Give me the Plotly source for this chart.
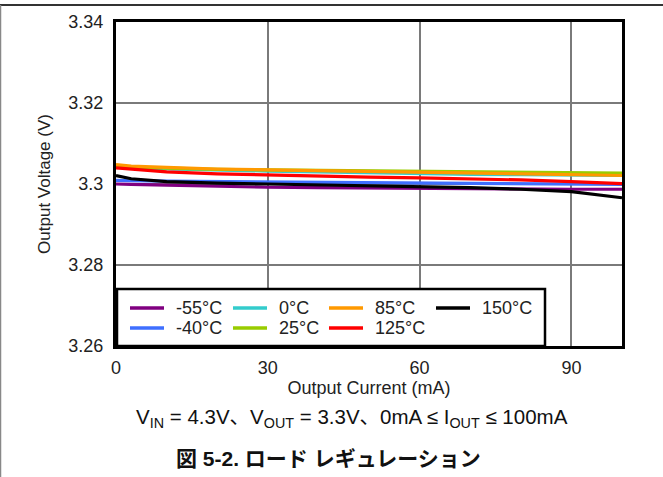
import plotly.graph_objects as go

# Load current (mA)
current_ma = [0, 1, 3, 10, 20, 30, 40, 50, 60, 70, 80, 90, 100]

# Output voltage (V) per ambient temperature
v_m55 = [3.3000, 3.3000, 3.2999, 3.2997, 3.2994, 3.2992, 3.2991, 3.2990, 3.2989, 3.2988, 3.2988, 3.2987, 3.2987]
v_m40 = [3.3009, 3.3009, 3.3008, 3.3007, 3.3006, 3.3005, 3.3004, 3.3003, 3.3002, 3.3001, 3.3000, 3.2999, 3.2999]
v_0 = [3.3044, 3.3043, 3.3040, 3.3037, 3.3034, 3.3032, 3.3030, 3.3028, 3.3025, 3.3024, 3.3023, 3.3022, 3.3021]
v_25 = [3.3045, 3.3044, 3.3042, 3.3039, 3.3036, 3.3035, 3.3034, 3.3033, 3.3032, 3.3031, 3.3030, 3.3028, 3.3027]
v_85 = [3.3048, 3.3047, 3.3044, 3.3041, 3.3037, 3.3035, 3.3033, 3.3031, 3.3030, 3.3028, 3.3025, 3.3023, 3.3021]
v_125 = [3.3040, 3.3039, 3.3036, 3.3030, 3.3025, 3.3022, 3.3019, 3.3017, 3.3015, 3.3013, 3.3010, 3.3006, 3.3001]
v_150 = [3.3021, 3.3018, 3.3013, 3.3006, 3.3002, 3.3000, 3.2998, 3.2996, 3.2994, 3.2991, 3.2987, 3.2981, 3.2966]

labels = ["-55°C", "-40°C", "0°C", "25°C", "85°C", "125°C", "150°C"]
series = [v_m55, v_m40, v_0, v_25, v_85, v_125, v_150]
colors = ["#800080", "#3F6FFF", "#33CCCC", "#99CC00", "#FF9900", "#FF0000", "#000000"]

x_ticks = [0, 30, 60, 90]
y_ticks = [3.26, 3.28, 3.30, 3.32, 3.34]
y_tick_text = ["3.26", "3.28", "3.3", "3.32", "3.34"]

FONT = "Arial, Liberation Sans, Noto Sans CJK JP, sans-serif"
TXT = "#222"

# plot-area geometry in pixels, used to place the key box in paper units
W, H = 663, 477
ML, MR, MT, MB = 116, 41, 22, 131
PW, PH = W - ML - MR, H - MT - MB


def px(xpix):
    return (xpix - ML) / PW


def py(ypix):
    return (H - MB - ypix) / PH


fig = go.Figure()
for name, ys, col in zip(labels, series, colors):
    fig.add_trace(go.Scatter(
        x=current_ma, y=ys, name=name, mode="lines",
        line=dict(color=col, width=3.2), showlegend=False,
    ))

fig.update_layout(
    width=W, height=H,
    margin=dict(l=ML, r=MR, t=MT, b=MB),
    paper_bgcolor="white", plot_bgcolor="white",
    font=dict(family=FONT, size=17, color=TXT),
    xaxis=dict(
        range=[0, 100], tickvals=x_ticks, ticks="",
        tickfont=dict(size=18),
        showgrid=True, gridcolor="#7a7a7a", gridwidth=2,
        showline=True, linecolor="black", linewidth=3, mirror=True,
        zeroline=False, ticklabelstandoff=3,
        title=dict(text="Output Current (mA)", standoff=0,
                   font=dict(family=FONT, size=18, color=TXT)),
    ),
    yaxis=dict(
        range=[3.26, 3.34], tickvals=y_ticks, ticktext=y_tick_text, ticks="",
        tickfont=dict(size=18),
        showgrid=True, gridcolor="#7a7a7a", gridwidth=2,
        showline=True, linecolor="black", linewidth=3, mirror=True,
        zeroline=False, ticklabelstandoff=6,
        title=dict(text="Output Voltage (V)", standoff=14,
                   font=dict(family=FONT, size=17, color=TXT)),
    ),
)

# Key box in the lower-left corner of the plot, filled row by row
fig.add_shape(type="rect", xref="paper", yref="paper",
              x0=px(117), x1=px(545), y0=py(346), y1=py(289),
              fillcolor="white", line=dict(color="black", width=2.5))
key_order = ["-55°C", "0°C", "85°C", "150°C", "-40°C", "25°C", "125°C"]
col_x = [130, 233, 329, 436]
row_y = [308, 328]
for i, name in enumerate(key_order):
    k = labels.index(name)
    x0 = col_x[i % 4]
    y0 = row_y[i // 4]
    fig.add_shape(type="line", xref="paper", yref="paper",
                  x0=px(x0), x1=px(x0 + 34), y0=py(y0), y1=py(y0),
                  line=dict(color=colors[k], width=3.5))
    fig.add_annotation(text=name, xref="paper", yref="paper",
                       x=px(x0 + 44), y=py(y0), xanchor="left", yanchor="middle",
                       showarrow=False,
                       font=dict(family=FONT, size=18, color=TXT))

# Figure caption below the plot
fig.add_annotation(
    text="V<sub>IN</sub> = 4.3V、V<sub>OUT</sub> = 3.3V、0mA ≤ I<sub>OUT</sub> ≤ 100mA",
    xref="paper", yref="paper", x=0.467, y=-0.222,
    xanchor="center", yanchor="middle", showarrow=False,
    font=dict(family=FONT, size=20.5, color="#111"),
)
fig.add_annotation(
    text="<b>図 5-2. ロード レギュレーション</b>",
    xref="paper", yref="paper", x=0.42, y=-0.347,
    xanchor="center", yanchor="middle", showarrow=False,
    font=dict(family=FONT, size=21, color="#111"),
)

# Page frame: top and left rules
fig.add_shape(type="line", xref="paper", yref="paper",
              x0=px(0), x1=px(W), y0=py(5), y1=py(5),
              line=dict(color="#333", width=2))
fig.add_shape(type="line", xref="paper", yref="paper",
              x0=px(0.5), x1=px(0.5), y0=py(5), y1=py(H),
              line=dict(color="#888", width=1.5))

fig.write_html("out.html")
